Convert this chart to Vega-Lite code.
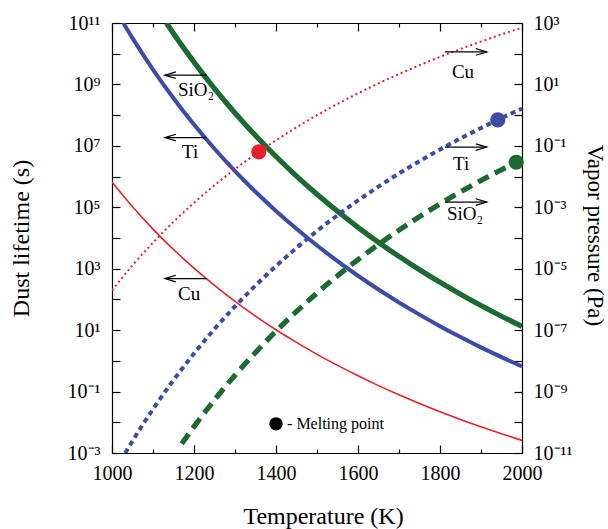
{
  "$schema": "https://vega.github.io/schema/vega-lite/v6.json",
  "width": 410,
  "height": 430,
  "autosize": {"type": "none"},
  "padding": {"left": 112, "top": 23, "right": 86, "bottom": 76},
  "background": "white",
  "config": {
    "font": "Liberation Serif, Times New Roman, serif",
    "view": {"stroke": null},
    "text": {"font": "Liberation Serif, Times New Roman, serif"},
    "axis": {"labelFont": "Liberation Serif, Times New Roman, serif", "titleFont": "Liberation Serif, Times New Roman, serif", "labelColor": "black", "titleColor": "black", "tickColor": "black", "domainColor": "black", "grid": false, "titleFontWeight": "normal", "labelFontSize": 20, "titleFontSize": 24, "labelOverlap": false, "labelFlush": false, "domainWidth": 1.2, "tickWidth": 1.2}
  },
  "datasets": {
    "life": [
      {"material": "Ti", "T": 1027.5, "tau": 1e11}, {"material": "Ti", "T": 1050, "tau": 3.22e10}, {"material": "Ti", "T": 1100, "tau": 3.05e9}, {"material": "Ti", "T": 1150, "tau": 3.55e8}, {"material": "Ti", "T": 1200, "tau": 4.94e7}, {"material": "Ti", "T": 1250, "tau": 8.05e6}, {"material": "Ti", "T": 1300, "tau": 1.51e6}, {"material": "Ti", "T": 1350, "tau": 3.21e5}, {"material": "Ti", "T": 1400, "tau": 7.6e4}, {"material": "Ti", "T": 1450, "tau": 1.99e4}, {"material": "Ti", "T": 1500, "tau": 5690}, {"material": "Ti", "T": 1550, "tau": 1770}, {"material": "Ti", "T": 1600, "tau": 590}, {"material": "Ti", "T": 1650, "tau": 210}, {"material": "Ti", "T": 1700, "tau": 79.8}, {"material": "Ti", "T": 1750, "tau": 32.0}, {"material": "Ti", "T": 1800, "tau": 13.5}, {"material": "Ti", "T": 1850, "tau": 5.96}, {"material": "Ti", "T": 1900, "tau": 2.74}, {"material": "Ti", "T": 1950, "tau": 1.32}, {"material": "Ti", "T": 2000, "tau": 0.655},
      {"material": "SiO2", "T": 1132.8, "tau": 1e11}, {"material": "SiO2", "T": 1150, "tau": 4.57e10}, {"material": "SiO2", "T": 1200, "tau": 5.31e9}, {"material": "SiO2", "T": 1250, "tau": 7.33e8}, {"material": "SiO2", "T": 1300, "tau": 1.18e8}, {"material": "SiO2", "T": 1350, "tau": 2.17e7}, {"material": "SiO2", "T": 1400, "tau": 4.5e6}, {"material": "SiO2", "T": 1450, "tau": 1.04e6}, {"material": "SiO2", "T": 1500, "tau": 2.65e5}, {"material": "SiO2", "T": 1550, "tau": 7.4e4}, {"material": "SiO2", "T": 1600, "tau": 2.23e4}, {"material": "SiO2", "T": 1650, "tau": 7240}, {"material": "SiO2", "T": 1700, "tau": 2510}, {"material": "SiO2", "T": 1750, "tau": 925}, {"material": "SiO2", "T": 1800, "tau": 361}, {"material": "SiO2", "T": 1850, "tau": 148}, {"material": "SiO2", "T": 1900, "tau": 63.4}, {"material": "SiO2", "T": 1950, "tau": 28.4}, {"material": "SiO2", "T": 2000, "tau": 13.3},
      {"material": "Cu", "T": 1000, "tau": 6.61e5}, {"material": "Cu", "T": 1050, "tau": 1.04e5}, {"material": "Cu", "T": 1100, "tau": 1.95e4}, {"material": "Cu", "T": 1150, "tau": 4230}, {"material": "Cu", "T": 1200, "tau": 1040}, {"material": "Cu", "T": 1250, "tau": 286}, {"material": "Cu", "T": 1300, "tau": 86.7}, {"material": "Cu", "T": 1350, "tau": 28.8}, {"material": "Cu", "T": 1400, "tau": 10.3}, {"material": "Cu", "T": 1450, "tau": 3.98}, {"material": "Cu", "T": 1500, "tau": 1.63}, {"material": "Cu", "T": 1550, "tau": 0.711}, {"material": "Cu", "T": 1600, "tau": 0.326}, {"material": "Cu", "T": 1650, "tau": 0.156}, {"material": "Cu", "T": 1700, "tau": 0.0783}, {"material": "Cu", "T": 1750, "tau": 0.0408}, {"material": "Cu", "T": 1800, "tau": 0.0221}, {"material": "Cu", "T": 1850, "tau": 0.0124}, {"material": "Cu", "T": 1900, "tau": 0.00713}, {"material": "Cu", "T": 1950, "tau": 0.00423}, {"material": "Cu", "T": 2000, "tau": 0.00257}
    ],
    "vap": [
      {"material": "Cu", "T": 1000, "P": 1.97e-6}, {"material": "Cu", "T": 1050, "P": 1.29e-5}, {"material": "Cu", "T": 1100, "P": 7.08e-5}, {"material": "Cu", "T": 1150, "P": 3.36e-4}, {"material": "Cu", "T": 1200, "P": 1.4e-3}, {"material": "Cu", "T": 1250, "P": 5.2e-3}, {"material": "Cu", "T": 1300, "P": 0.0175}, {"material": "Cu", "T": 1350, "P": 0.0537}, {"material": "Cu", "T": 1400, "P": 0.152}, {"material": "Cu", "T": 1450, "P": 0.401}, {"material": "Cu", "T": 1500, "P": 0.993}, {"material": "Cu", "T": 1550, "P": 2.32}, {"material": "Cu", "T": 1600, "P": 5.12}, {"material": "Cu", "T": 1650, "P": 10.8}, {"material": "Cu", "T": 1700, "P": 21.8}, {"material": "Cu", "T": 1750, "P": 42.3}, {"material": "Cu", "T": 1800, "P": 78.9}, {"material": "Cu", "T": 1850, "P": 143}, {"material": "Cu", "T": 1900, "P": 249}, {"material": "Cu", "T": 1950, "P": 425}, {"material": "Cu", "T": 2000, "P": 704},
      {"material": "Ti", "T": 1032.2, "P": 1e-11}, {"material": "Ti", "T": 1050, "P": 2.47e-11}, {"material": "Ti", "T": 1100, "P": 2.67e-10}, {"material": "Ti", "T": 1150, "P": 2.36e-9}, {"material": "Ti", "T": 1200, "P": 1.73e-8}, {"material": "Ti", "T": 1250, "P": 1.09e-7}, {"material": "Ti", "T": 1300, "P": 5.92e-7}, {"material": "Ti", "T": 1350, "P": 2.84e-6}, {"material": "Ti", "T": 1400, "P": 1.22e-5}, {"material": "Ti", "T": 1450, "P": 4.74e-5}, {"material": "Ti", "T": 1500, "P": 1.68e-4}, {"material": "Ti", "T": 1550, "P": 5.5e-4}, {"material": "Ti", "T": 1600, "P": 1.67e-3}, {"material": "Ti", "T": 1650, "P": 4.73e-3}, {"material": "Ti", "T": 1700, "P": 0.0126}, {"material": "Ti", "T": 1750, "P": 0.0318}, {"material": "Ti", "T": 1800, "P": 0.0764}, {"material": "Ti", "T": 1850, "P": 0.175}, {"material": "Ti", "T": 1900, "P": 0.382}, {"material": "Ti", "T": 1950, "P": 0.804}, {"material": "Ti", "T": 2000, "P": 1.63},
      {"material": "SiO2", "T": 1170, "P": 2.0e-11}, {"material": "SiO2", "T": 1200, "P": 7.21e-11}, {"material": "SiO2", "T": 1250, "P": 5.35e-10}, {"material": "SiO2", "T": 1300, "P": 3.4e-9}, {"material": "SiO2", "T": 1350, "P": 1.88e-8}, {"material": "SiO2", "T": 1400, "P": 9.25e-8}, {"material": "SiO2", "T": 1450, "P": 4.06e-7}, {"material": "SiO2", "T": 1500, "P": 1.62e-6}, {"material": "SiO2", "T": 1550, "P": 5.89e-6}, {"material": "SiO2", "T": 1600, "P": 1.98e-5}, {"material": "SiO2", "T": 1650, "P": 6.18e-5}, {"material": "SiO2", "T": 1700, "P": 1.8e-4}, {"material": "SiO2", "T": 1750, "P": 4.95e-4}, {"material": "SiO2", "T": 1800, "P": 1.29e-3}, {"material": "SiO2", "T": 1850, "P": 3.17e-3}, {"material": "SiO2", "T": 1900, "P": 7.45e-3}, {"material": "SiO2", "T": 1950, "P": 0.0167}, {"material": "SiO2", "T": 1986, "P": 0.0293}
    ],
    "melt": [
      {"material": "Cu", "T": 1358, "P": 0.0637},
      {"material": "Ti", "T": 1941, "P": 0.705},
      {"material": "SiO2", "T": 1986, "P": 0.0293}
    ],
    "arrows": [
      {"dir": "left", "tail": 1231, "tip": 1129, "y": 2.0e9},
      {"dir": "left", "tail": 1231, "tip": 1129, "y": 1.86e7},
      {"dir": "left", "tail": 1231, "tip": 1129, "y": 478},
      {"dir": "right", "tail": 1812, "tip": 1914, "y": 1.14e10},
      {"dir": "right", "tail": 1812, "tip": 1914, "y": 9.1e6},
      {"dir": "right", "tail": 1812, "tip": 1914, "y": 1.48e5}
    ],
    "labels": [
      {"text": "SiO₂", "T": 1161, "y": 6.46e8},
      {"text": "Ti", "T": 1171, "y": 6.31e6},
      {"text": "Cu", "T": 1161, "y": 155},
      {"text": "Cu", "T": 1829, "y": 2.51e9},
      {"text": "Ti", "T": 1832, "y": 2.63e6},
      {"text": "SiO₂", "T": 1817, "y": 5.89e4}
    ],
    "legend": [
      {"T": 1400, "y": 0.0089, "text": "- Melting point", "tT": 1427}
    ]
  },
  "resolve": {"scale": {"y": "independent", "strokeWidth": "independent"}, "axis": {"x": "independent", "y": "independent"}},
  "layer": [
    {
      "data": {"name": "life"},
      "mark": {"type": "line", "clip": true, "interpolate": "monotone"},
      "encoding": {
        "x": {"field": "T", "type": "quantitative", "scale": {"domain": [1000, 2000], "nice": false},
          "axis": {"orient": "bottom", "values": [1000, 1200, 1400, 1600, 1800, 2000], "format": "d", "tickSize": -8, "labelPadding": 18, "title": "Temperature (K)", "titleX": 211, "titleY": 70, "titleAlign": "center", "titleBaseline": "alphabetic"}},
        "y": {"field": "tau", "type": "quantitative", "scale": {"type": "log", "domain": [0.001, 1e11], "nice": false},
          "axis": {"orient": "left", "values": [1e-3, 1e-2, 1e-1, 1, 10, 100, 1000, 1e4, 1e5, 1e6, 1e7, 1e8, 1e9, 1e10, 1e11], "tickSize": -8, "labelPadding": 20,
            "labelExpr": "['10⁻³','','10⁻¹','','10¹','','10³','','10⁵','','10⁷','','10⁹','','10¹¹'][round(log(datum.value)/LN10)+3]",
            "title": "Dust lifetime (s)", "titleX": -91, "titleY": 215, "titleAngle": -90, "titleAlign": "center", "titleBaseline": "middle"}},
        "color": {"field": "material", "type": "nominal", "scale": {"domain": ["Cu", "Ti", "SiO2"], "range": ["#e8202a", "#3b4ba6", "#1b6b30"]}, "legend": null},
        "strokeWidth": {"field": "material", "type": "nominal", "scale": {"type": "ordinal", "domain": ["Cu", "Ti", "SiO2"], "range": [1.6, 4, 5.2]}, "legend": null}
      }
    },
    {
      "data": {"name": "vap"},
      "mark": {"type": "line", "clip": true, "interpolate": "monotone"},
      "encoding": {
        "x": {"field": "T", "type": "quantitative", "scale": {"domain": [1000, 2000], "nice": false},
          "axis": {"orient": "top", "values": [1000, 1200, 1400, 1600, 1800, 2000], "tickSize": -8, "labels": false, "title": null}},
        "y": {"field": "P", "type": "quantitative", "scale": {"type": "log", "domain": [1e-11, 1000], "nice": false},
          "axis": {"orient": "right", "values": [1e-11, 1e-10, 1e-9, 1e-8, 1e-7, 1e-6, 1e-5, 1e-4, 1e-3, 1e-2, 1e-1, 1, 10, 100, 1000], "tickSize": -8, "labelPadding": 19,
            "labelExpr": "['10⁻¹¹','','10⁻⁹','','10⁻⁷','','10⁻⁵','','10⁻³','','10⁻¹','','10¹','','10³'][round(log(datum.value)/LN10)+11]",
            "title": "Vapor pressure (Pa)", "titleFontSize": 23, "titleX": 72, "titleY": 212, "titleAngle": 90, "titleAlign": "center", "titleBaseline": "middle"}},
        "color": {"field": "material", "type": "nominal", "legend": null},
        "strokeWidth": {"field": "material", "type": "nominal", "scale": {"type": "ordinal", "domain": ["Cu", "Ti", "SiO2"], "range": [2, 4, 5.2]}, "legend": null},
        "strokeDash": {"field": "material", "type": "nominal", "scale": {"domain": ["Cu", "Ti", "SiO2"], "range": [[2, 3], [5, 4], [12, 7]]}, "legend": null}
      }
    },
    {
      "data": {"name": "melt"},
      "mark": {"type": "point", "filled": true, "opacity": 1, "size": 230, "shape": "circle"},
      "encoding": {
        "x": {"field": "T", "type": "quantitative", "scale": {"domain": [1000, 2000], "nice": false},
          "axis": {"orient": "bottom", "values": [1100, 1300, 1500, 1700, 1900], "tickSize": -4, "labels": false, "domain": false, "title": null}},
        "y": {"field": "P", "type": "quantitative", "scale": {"type": "log", "domain": [1e-11, 1000], "nice": false}, "axis": null},
        "color": {"field": "material", "type": "nominal", "legend": null}
      }
    },
    {
      "data": {"name": "arrows"},
      "mark": {"type": "rule", "color": "black", "strokeWidth": 1.2},
      "encoding": {
        "x": {"field": "tail", "type": "quantitative", "scale": {"domain": [1000, 2000], "nice": false},
          "axis": {"orient": "top", "values": [1100, 1300, 1500, 1700, 1900], "tickSize": -4, "labels": false, "domain": false, "title": null}},
        "x2": {"field": "tip"},
        "y": {"field": "y", "type": "quantitative", "scale": {"type": "log", "domain": [0.001, 1e11], "nice": false}, "axis": null}
      }
    },
    {
      "data": {"name": "arrows"},
      "mark": {"type": "point", "filled": false, "color": "black", "strokeWidth": 1.2, "size": 480, "opacity": 1},
      "encoding": {
        "x": {"field": "tip", "type": "quantitative", "scale": {"domain": [1000, 2000], "nice": false}, "axis": null},
        "y": {"field": "y", "type": "quantitative", "scale": {"type": "log", "domain": [0.001, 1e11], "nice": false}, "axis": null},
        "shape": {"field": "dir", "type": "nominal", "scale": {"domain": ["left", "right"], "range": ["M1,-0.3L0,0L1,0.3", "M-1,-0.3L0,0L-1,0.3"]}, "legend": null}
      }
    },
    {
      "data": {"name": "labels"},
      "mark": {"type": "text", "align": "left", "baseline": "middle", "fontSize": 19, "color": "black"},
      "encoding": {
        "x": {"field": "T", "type": "quantitative", "scale": {"domain": [1000, 2000], "nice": false}, "axis": null},
        "y": {"field": "y", "type": "quantitative", "scale": {"type": "log", "domain": [0.001, 1e11], "nice": false}, "axis": null},
        "text": {"field": "text"}
      }
    },
    {
      "data": {"name": "legend"},
      "mark": {"type": "point", "filled": true, "color": "black", "opacity": 1, "size": 180, "shape": "circle"},
      "encoding": {
        "x": {"field": "T", "type": "quantitative", "scale": {"domain": [1000, 2000], "nice": false}, "axis": null},
        "y": {"field": "y", "type": "quantitative", "scale": {"type": "log", "domain": [0.001, 1e11], "nice": false}, "axis": null}
      }
    },
    {
      "data": {"name": "legend"},
      "mark": {"type": "text", "align": "left", "baseline": "middle", "fontSize": 16, "color": "black"},
      "encoding": {
        "x": {"field": "tT", "type": "quantitative", "scale": {"domain": [1000, 2000], "nice": false}, "axis": null},
        "y": {"field": "y", "type": "quantitative", "scale": {"type": "log", "domain": [0.001, 1e11], "nice": false}, "axis": null},
        "text": {"field": "text"}
      }
    }
  ]
}
